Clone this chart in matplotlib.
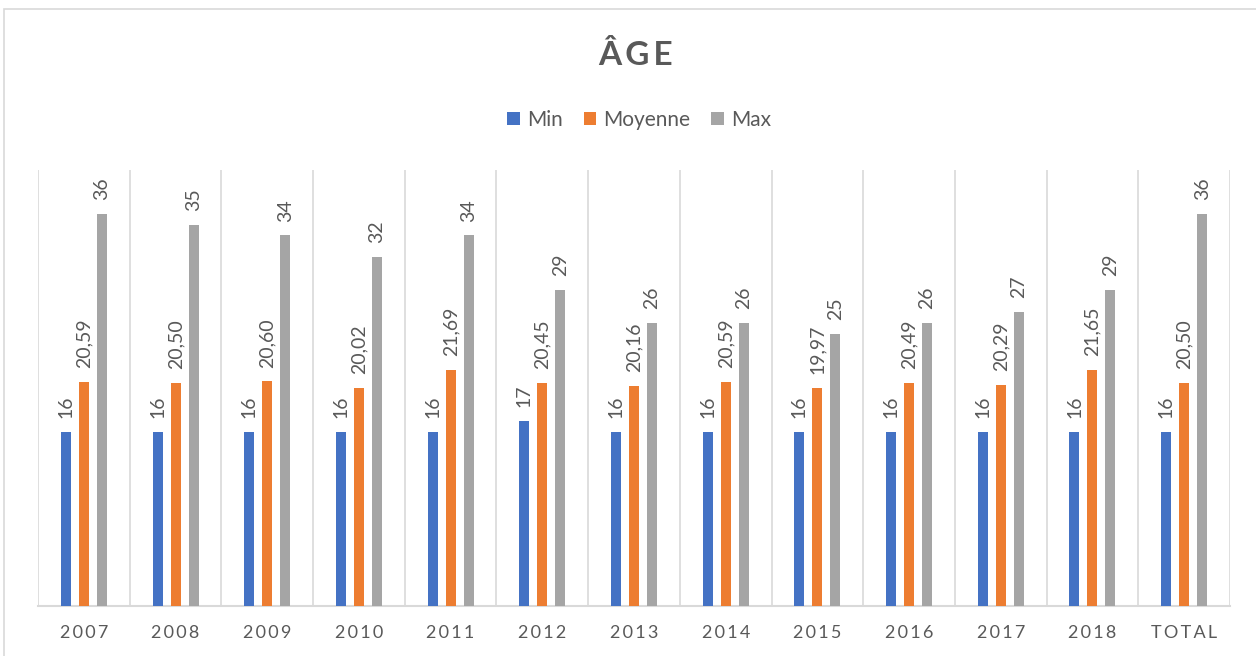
import matplotlib.pyplot as plt
import numpy as np
from matplotlib.patches import Rectangle

# Data
categories = ["2007", "2008", "2009", "2010", "2011", "2012", "2013",
              "2014", "2015", "2016", "2017", "2018", "TOTAL"]
min_vals = [16, 16, 16, 16, 16, 17, 16, 16, 16, 16, 16, 16, 16]
moy_vals = [20.59, 20.50, 20.60, 20.02, 21.69, 20.45, 20.16,
            20.59, 19.97, 20.49, 20.29, 21.65, 20.50]
max_vals = [36, 35, 34, 32, 34, 29, 26, 26, 25, 26, 27, 29, 36]
series_names = ["Min", "Moyenne", "Max"]

colors = ["#4472C4", "#ED7D31", "#A5A5A5"]
text_color = "#595959"
grid_color = "#D9D9D9"

plt.rcParams['font.family'] = ['Lato', 'DejaVu Sans']


def spaced(s, sep="\u2009"):
    # mimic the letter spacing of the axis labels
    return sep.join(s)


fig = plt.figure(figsize=(12.56, 6.56), dpi=100)

# light frame around the chart
fig.patches.append(Rectangle((4 / 1256, -0.1), 1.2, 1.1 - 9 / 656,
                             transform=fig.transFigure, fill=False,
                             ec=grid_color, lw=1.2))

ax = fig.add_axes([38 / 1256, 1 - 606 / 656, (1230 - 38) / 1256, (606 - 170) / 656])

x = np.arange(len(categories))
width = 0.109
step = 0.196
all_vals = [min_vals, moy_vals, max_vals]
for i, (vals, name, c) in enumerate(zip(all_vals, series_names, colors)):
    pos = x + (i - 1) * step
    ax.bar(pos, vals, width=width, color=c, label=name, zorder=3)
    for px, v in zip(pos, vals):
        lab = f"{v:.2f}".replace(".", ",") if i == 1 else f"{v:.0f}"
        ax.annotate(lab, (px, v), xytext=(0, 10), textcoords="offset points",
                    rotation=90, ha="center", va="bottom",
                    fontsize=14, color=text_color)

ax.set_xlim(-0.5, len(categories) - 0.5)
ax.set_ylim(0, 40)

# vertical separators between categories
for b in np.arange(-0.5, len(categories), 1.0):
    ax.axvline(b, color=grid_color, lw=1.2, zorder=1)

for side in ["top", "left", "right"]:
    ax.spines[side].set_visible(False)
ax.spines["bottom"].set_color(grid_color)
ax.spines["bottom"].set_linewidth(1.5)
ax.set_yticks([])
ax.set_xticks(x)
ax.set_xticklabels([spaced(c) for c in categories], fontsize=13, color=text_color)
ax.tick_params(axis="x", length=0, pad=14)

fig.text(0.506, 1 - 55 / 656, spaced("ÂGE"), ha="center", va="center",
         fontsize=24, fontweight="bold", color=text_color)

fig.legend(loc="center", bbox_to_anchor=(0.509, 1 - 120 / 656), ncol=3,
           frameon=False, fontsize=15, handlelength=0.6, handleheight=0.6,
           handletextpad=0.35, columnspacing=1.0, labelcolor=text_color)

fig.savefig("out.png", dpi=100)
